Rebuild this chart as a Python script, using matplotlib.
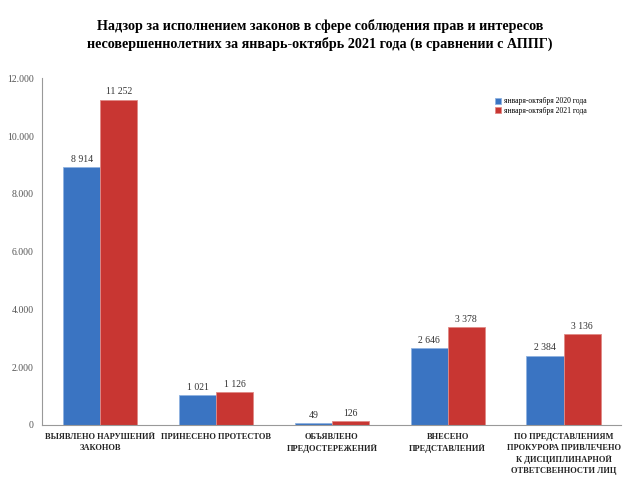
import matplotlib.pyplot as plt
import numpy as np

plt.rcParams['font.family'] = ['Liberation Serif', 'DejaVu Serif']

categories = ['ВЫЯВЛЕНО НАРУШЕНИЙ\nЗАКОНОВ', 'ПРИНЕСЕНО ПРОТЕСТОВ',
              'ОБЪЯВЛЕНО\nПРЕДОСТЕРЕЖЕНИЙ', 'ВНЕСЕНО\nПРЕДСТАВЛЕНИЙ',
              'ПО ПРЕДСТАВЛЕНИЯМ\nПРОКУРОРА ПРИВЛЕЧЕНО\nК ДИСЦИПЛИНАРНОЙ\nОТВЕТСВЕННОСТИ ЛИЦ']
v2020 = [8914, 1021, 49, 2646, 2384]
v2021 = [11252, 1126, 126, 3378, 3136]
labels2020 = ['8 914', '1 021', '49', '2 646', '2 384']
labels2021 = ['11 252', '1 126', '126', '3 378', '3 136']
yticks = [0, 2000, 4000, 6000, 8000, 10000, 12000]
ytick_labels = ['0', '2.000', '4.000', '6.000', '8.000', '10.000', '12.000']

fig = plt.figure(figsize=(6.4, 4.8), dpi=100)
ax = fig.add_axes([0.066, 0.115, 0.905, 0.722])

x = np.arange(len(categories))
w = 0.32
b1 = ax.bar(x - w / 2, v2020, w, color='#3a74c2', edgecolor='#8fb3e0', linewidth=0.6,
            label='января-октября 2020 года')
b2 = ax.bar(x + w / 2, v2021, w, color='#c83632', edgecolor='#e08a86', linewidth=0.6,
            label='января-октября 2021 года')

for rect, t in zip(b1, labels2020):
    ax.text(rect.get_x() + rect.get_width() / 2, rect.get_height() + 120, t,
            ha='center', va='bottom', fontsize=7, color='#333333')
for rect, t in zip(b2, labels2021):
    ax.text(rect.get_x() + rect.get_width() / 2, rect.get_height() + 120, t,
            ha='center', va='bottom', fontsize=7, color='#333333')

ax.set_xlim(-0.5, len(categories) - 0.5)
ax.set_ylim(0, 12000)
ax.set_yticks(yticks)
ax.set_yticklabels(ytick_labels, fontsize=7, color='#555555')
ax.set_xticks(x)
ax.set_xticklabels(categories, fontsize=6, fontweight='bold', color='#222222', linespacing=1.45)
ax.tick_params(axis='both', length=0, pad=6)
ax.spines['top'].set_visible(False)
ax.spines['right'].set_visible(False)
ax.spines['left'].set_color('#999999')
ax.spines['bottom'].set_color('#999999')

ax.legend(loc='upper left', bbox_to_anchor=(0.77, 0.965), fontsize=5.5, frameon=False,
          handlelength=0.8, handleheight=0.8, handletextpad=0.3, labelspacing=0.2)

fig.text(0.5, 0.927, 'Надзор за исполнением законов в сфере соблюдения прав и интересов\n'
         'несовершеннолетних за январь-октябрь 2021 года (в сравнении с АППГ)',
         ha='center', va='center', fontsize=10.2, fontweight='bold', linespacing=1.35)

fig.savefig('out.png', dpi=100)
